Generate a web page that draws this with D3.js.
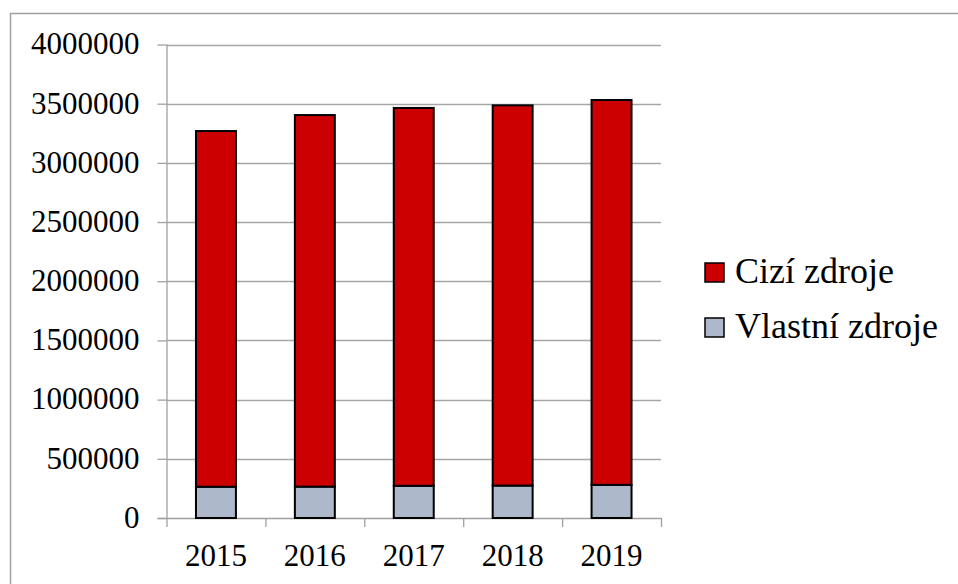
<!DOCTYPE html>
<html>
<head>
<meta charset="utf-8">
<script src="https://cdn.jsdelivr.net/npm/d3@7"></script>
<style>
  html, body { margin: 0; padding: 0; background: #fff; }
  svg { display: block; }
  svg text { font-family: "Liberation Serif", "Times New Roman", Tinos, serif; }
</style>
</head>
<body>
<svg id="chart" width="958" height="584"></svg>
<script>
const years = ["2015", "2016", "2017", "2018", "2019"];
const vlastniZdroje = [264000, 265000, 272000, 274000, 280000];
const ciziZdroje = [3005000, 3139000, 3192000, 3212000, 3251000];
const yTicks = [0, 500000, 1000000, 1500000, 2000000, 2500000, 3000000, 3500000, 4000000];
const seriesNames = ["Vlastní zdroje", "Cizí zdroje"];
const seriesColors = ["#adb9ca", "#cc0000"];

(function () {
const FONT = "'Liberation Serif'";
const svg = d3.select("#chart");

// outer frame
svg.append("path")
  .attr("d", "M10.5,584 L10.5,13.5 L958,13.5")
  .attr("fill", "none").attr("stroke", "#a0a0a0").attr("stroke-width", 1.5);

const pLeft = 166.5, pRight = 661, pTop = 44.5, pBottom = 518;

const x = d3.scaleBand().domain(years).range([pLeft, pRight]).paddingInner(0.596).paddingOuter(0.298);
const y = d3.scaleLinear().domain([0, 4000000]).range([pBottom, pTop]);

// gridlines
svg.append("g").selectAll("line").data(yTicks.filter(d => d > 0)).join("line")
  .attr("x1", pLeft).attr("x2", pRight)
  .attr("y1", d => Math.round(y(d)) + 0.5).attr("y2", d => Math.round(y(d)) + 0.5)
  .attr("stroke", "#a6a6a6").attr("stroke-width", 1.3);

// stacked data
const table = years.map((yr, i) => ({ year: yr, "Vlastní zdroje": vlastniZdroje[i], "Cizí zdroje": ciziZdroje[i] }));
const stack = d3.stack().keys(seriesNames)(table);

// y axis
const yAxis = d3.axisLeft(y).tickValues(yTicks).tickFormat(d3.format("d")).tickSize(9).tickPadding(18);
const gy = svg.append("g").attr("transform", `translate(${pLeft},0)`).call(yAxis);
gy.attr("font-family", "Liberation Serif").attr("font-size", 31);
gy.select(".domain").attr("stroke", "#a0a0a0").attr("stroke-width", 1.3).attr("d", `M0.5,${pTop}V${pBottom}`);
gy.selectAll(".tick line").attr("stroke", "#a0a0a0").attr("stroke-width", 1.3);
gy.selectAll(".tick text").style("font-family", FONT).style("font-size", "31px").attr("fill", "#000").attr("dy", "0.3em");

// x axis
const xAxis = d3.axisBottom(x).tickSize(0).tickPadding(0);
const gx = svg.append("g").attr("transform", `translate(0,${pBottom})`).call(xAxis);
gx.attr("font-family", "Liberation Serif").attr("font-size", 31);
gx.select(".domain").remove();
gx.selectAll(".tick text").style("font-family", FONT).style("font-size", "31px").attr("fill", "#000").attr("y", 48).attr("dy", 0);
svg.append("line").attr("x1", pLeft - 9).attr("x2", pRight).attr("y1", pBottom + 0.5).attr("y2", pBottom + 0.5)
  .attr("stroke", "#a0a0a0").attr("stroke-width", 1.3);
svg.append("g").selectAll("line").data(d3.range(years.length + 1)).join("line")
  .attr("x1", i => pLeft + i * (pRight - pLeft) / years.length + 0.5)
  .attr("x2", i => pLeft + i * (pRight - pLeft) / years.length + 0.5)
  .attr("y1", pBottom).attr("y2", pBottom + 9)
  .attr("stroke", "#a0a0a0").attr("stroke-width", 1.3);

// bars
svg.append("g").selectAll("g").data(stack).join("g")
  .attr("fill", (d, i) => seriesColors[i])
  .selectAll("rect").data(d => d).join("rect")
  .attr("x", d => x(d.data.year))
  .attr("width", x.bandwidth())
  .attr("y", d => y(d[1]))
  .attr("height", d => y(d[0]) - y(d[1]))
  .attr("stroke", "#000").attr("stroke-width", 2);

// legend
const legendItems = [
  { name: "Cizí zdroje", color: seriesColors[1] },
  { name: "Vlastní zdroje", color: seriesColors[0] }
];
const lg = svg.append("g").selectAll("g").data(legendItems).join("g")
  .attr("transform", (d, i) => `translate(705,${263 + i * 55})`);
lg.append("rect").attr("width", 19).attr("height", 19)
  .attr("fill", d => d.color).attr("stroke", "#000").attr("stroke-width", 1.5);
lg.append("text").attr("x", 30).attr("y", 20)
  .attr("font-family", "Liberation Serif")
  .style("font-family", FONT).style("font-size", "36px").attr("fill", "#000")
  .text(d => d.name);
})();
</script>
</body>
</html>
